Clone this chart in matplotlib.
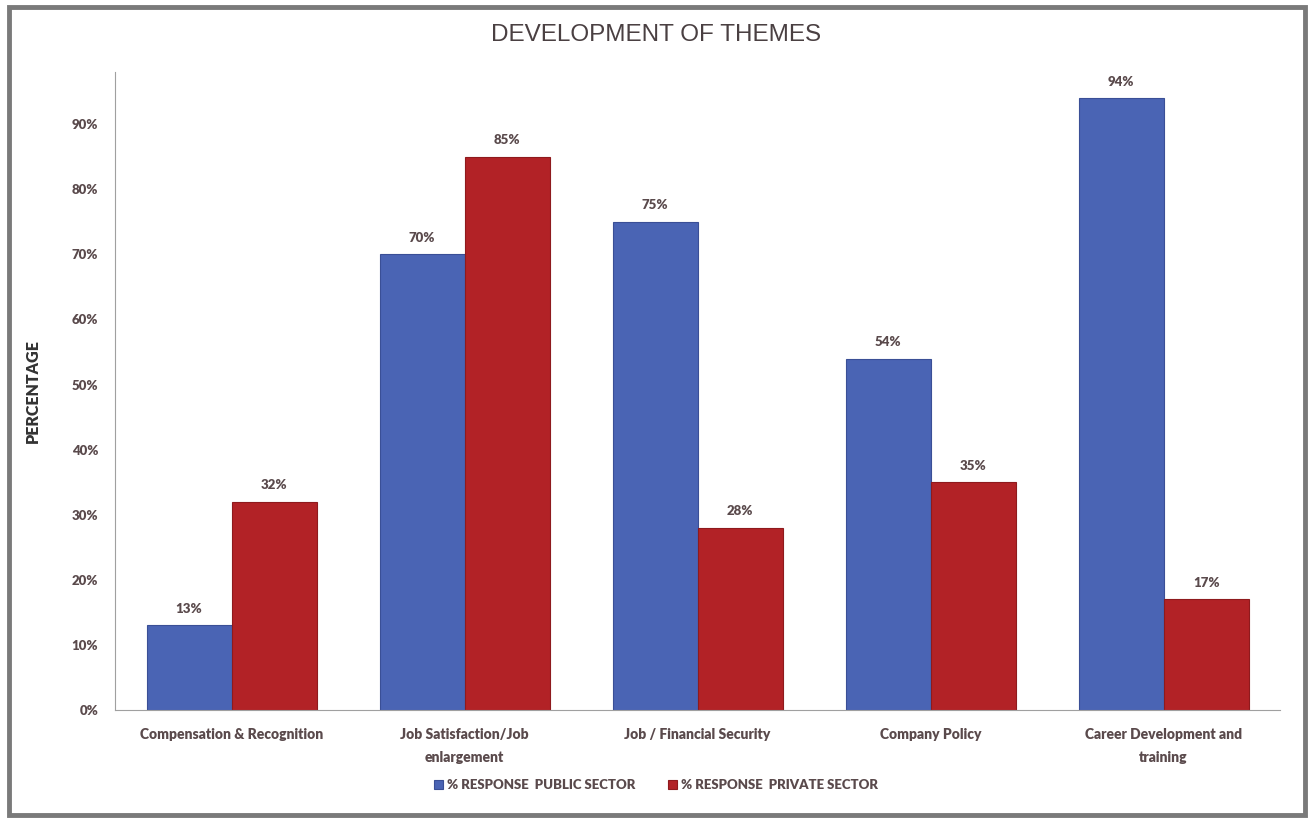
import numpy as np
import matplotlib.pyplot as plt
from matplotlib.patches import Rectangle

# DATA
categories = ["Compensation & Recognition", "Job Satisfaction/Job\nenlargement",
              "Job / Financial Security", "Company Policy",
              "Career Development and\ntraining"]
public_sector = [13, 70, 75, 54, 94]
private_sector = [32, 85, 28, 35, 17]
series_names = ["% RESPONSE  PUBLIC SECTOR", "% RESPONSE  PRIVATE SECTOR"]
yticks = [0, 10, 20, 30, 40, 50, 60, 70, 80, 90]

# STYLE
BLUE = '#4a64b4'
RED = '#b22226'
TXT = '#5a4a4c'
FONT = ['Lato', 'DejaVu Sans']

fig = plt.figure(figsize=(13.12, 8.23), dpi=100)
ax = fig.add_axes([0.0877, 0.1373, 0.888, 0.775])

x = np.arange(len(categories))
w = 0.365
b1 = ax.bar(x - w/2, public_sector, w, color=BLUE, edgecolor='#3a4f96', linewidth=0.8,
            label=series_names[0])
b2 = ax.bar(x + w/2, private_sector, w, color=RED, edgecolor='#8e1a1d', linewidth=0.8,
            label=series_names[1])

for bars in (b1, b2):
    for r in bars:
        ax.text(r.get_x() + r.get_width()/2, r.get_height() + 1.6, f"{r.get_height():.0f}%",
                ha='center', va='bottom', fontsize=9.5, fontweight='heavy', color=TXT, family=FONT)

ax.set_xlim(-0.5, 4.5)
ax.set_ylim(0, 98)
ax.set_yticks(yticks)
ax.set_yticklabels([f"{v}%" for v in yticks], fontsize=9.5, fontweight='heavy', color=TXT, family=FONT)
ax.set_xticks(x)
ax.set_xticklabels(categories, fontsize=10, fontweight='heavy', color=TXT, family=FONT,
                   linespacing=1.9)
ax.tick_params(axis='y', length=0, pad=12)
ax.tick_params(axis='x', length=0, pad=13)

for s in ('top', 'right'):
    ax.spines[s].set_visible(False)
ax.spines['left'].set_color('#a0a0a0')
ax.spines['bottom'].set_color('#a0a0a0')

ax.set_ylabel("PERCENTAGE", fontsize=11.5, fontweight='heavy', color='#333333', family=FONT, labelpad=22)

fig.text(0.5, 0.957, "DEVELOPMENT OF THEMES", ha='center', va='center', fontsize=17.5,
         color='#4a4042', family='Liberation Sans')

leg = fig.legend(loc='center', bbox_to_anchor=(0.5, 0.046), ncol=2, frameon=False,
                 handlelength=0.7, handleheight=0.7, handletextpad=0.3, columnspacing=2.5,
                 prop={'family': FONT, 'weight': 'heavy', 'size': 9.5})
for t in leg.get_texts():
    t.set_color(TXT)

# outer frame
fig.patches.append(Rectangle((0.007, 0.01), 0.988, 0.982, transform=fig.transFigure,
                             fill=False, edgecolor='#7a7a7a', linewidth=3.5))

fig.savefig("out.png", dpi=100)
